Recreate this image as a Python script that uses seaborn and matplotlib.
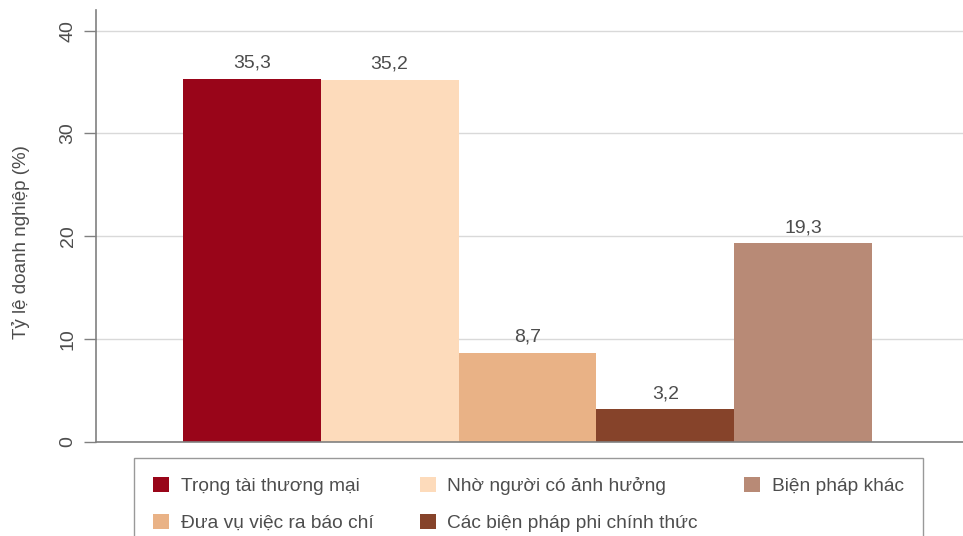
import matplotlib
matplotlib.use("Agg")
import matplotlib.pyplot as plt
import seaborn as sns
import pandas as pd

categories = [
    "Trọng tài thương mại",
    "Nhờ người có ảnh hưởng",
    "Đưa vụ việc ra báo chí",
    "Các biện pháp phi chính thức",
    "Biện pháp khác",
]
values = [35.3, 35.2, 8.7, 3.2, 19.3]
colors = ["#990519", "#FDDBBB", "#E9B286", "#86432A", "#B88A76"]
yticks = [0, 10, 20, 30, 40]
ylabel = "Tỷ lệ doanh nghiệp (%)"

sns.set_theme(style="white")
plt.rcParams["font.family"] = ["Liberation Sans", "DejaVu Sans"]
text_color = "#4d4d4d"

df = pd.DataFrame({"cat": categories, "val": values})

fig = plt.figure(figsize=(9.63, 5.36), dpi=100)
ax = fig.add_axes([96 / 963, 94 / 536, 867 / 963, 432 / 536])

sns.barplot(data=df, x="cat", y="val", hue="cat", palette=colors,
            order=categories, hue_order=categories, width=1.0,
            dodge=False, legend=False, saturation=1, linewidth=0, ax=ax)

for cont in ax.containers:
    ax.bar_label(cont, labels=[f"{v:.1f}".replace(".", ",") for v in cont.datavalues],
                 padding=5, fontsize=14, color=text_color)

ax.set_xlim(-1.13, 5.16)
ax.set_ylim(0, 42)
ax.set_yticks(yticks)
ax.set_yticklabels([str(t) for t in yticks], rotation=90, va="center",
                   fontsize=14, color=text_color)
ax.tick_params(axis="y", length=9, width=1, color="#808080", pad=5, left=True)
ax.set_xticks([])
ax.set_xlabel("")
ax.set_ylabel(ylabel, fontsize=13.5, color=text_color, labelpad=20)
ax.yaxis.set_label_coords(-0.076, 0.463)
ax.yaxis.grid(True, color="#d9d9d9", linewidth=1)
ax.set_axisbelow(True)
for s in ["top", "right"]:
    ax.spines[s].set_visible(False)
for s in ["left", "bottom"]:
    ax.spines[s].set_color("#808080")
    ax.spines[s].set_linewidth(1.2)

# Legend fills column by column, so reorder entries to read row by row
handles = [plt.Rectangle((0, 0), 1, 1, facecolor=c, edgecolor="none") for c in colors]
order = [0, 2, 1, 3, 4]
leg = fig.legend([handles[i] for i in order], [categories[i] for i in order],
                 loc="upper left", bbox_to_anchor=(134 / 963, 78 / 536),
                 ncol=3, fontsize=13.8, frameon=True, fancybox=False,
                 handlelength=0.85, handleheight=0.85, handletextpad=0.6,
                 columnspacing=2.4, labelspacing=0.95, borderpad=1.0,
                 borderaxespad=0)
leg.get_frame().set_edgecolor("#808080")
leg.get_frame().set_linewidth(1.0)
for t in leg.get_texts():
    t.set_color(text_color)

fig.savefig("out.png", dpi=100)
